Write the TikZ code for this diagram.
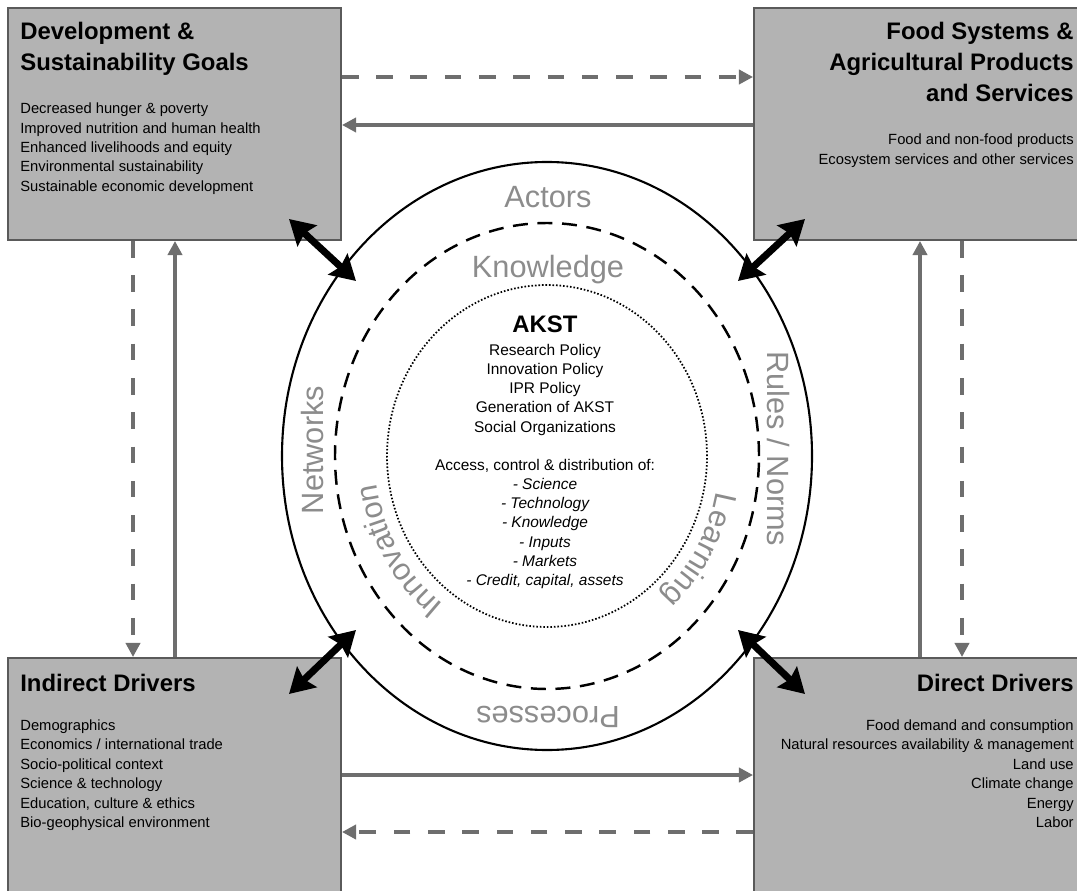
\documentclass[tikz,border=0pt]{standalone}
\usepackage{fontspec}
\setmainfont{Liberation Sans}
\usetikzlibrary{arrows.meta,fit,decorations.text}

\definecolor{boxfill}{HTML}{B3B3B3}
\definecolor{boxline}{HTML}{5A5A5A}
\definecolor{flowgray}{HTML}{6E6E6E}
\definecolor{ringgray}{HTML}{8C8C8C}
\newcommand\ringfont{\fontsize{17.5}{20}\selectfont}

\begin{document}
\begin{tikzpicture}[x=0.02cm,y=0.02cm]
    \tikzset{box/.style = {draw=boxline, line width=1.1pt, fill=boxfill, inner sep=0pt}}
    \tikzset{boxtitle/.style = {font=\fontsize{13.6}{16}\selectfont\bfseries, inner sep=0pt}}
    \tikzset{boxitem/.style = {font=\fontsize{8.4}{10}\selectfont, inner sep=0pt}}
    \tikzset{coreitem/.style = {font=\fontsize{8.8}{10}\selectfont, inner sep=0pt}}
    \tikzset{ringlabel/.style = {font=\ringfont, text=ringgray, inner sep=0pt}}
    \tikzset{flow/.style = {draw=flowgray, line width=2.3pt, -{Triangle[length=8pt,width=8pt]}}}
    \tikzset{flowdash/.style = {flow, dash pattern=on 9.5pt off 10pt}}
    \tikzset{link/.style = {line width=4pt, {Stealth[length=14pt,width=16pt,inset=2pt]}-{Stealth[length=14pt,width=16pt,inset=2pt]}}}
    \tikzset{arclabel/.style = {decorate, decoration={text along path, text align=center, text color=ringgray, text={|\ringfont|#1}}}}
    \useasboundingbox (0,0) rectangle (1077,890);
    \clip (0,0) rectangle (1077,890);
    % the four boxes
    \node[box, fit={(8,650) (341,882)}] (goals) {};
    \node[box, fit={(754,650) (1090,882)}] (food) {};
    \node[box, fit={(8,-10) (341,232)}] (indirect) {};
    \node[box, fit={(754,-10) (1090,232)}] (direct) {};
    % box texts
    \foreach \txt [count=\i] in {Development \&, Sustainability Goals}
        \node[boxtitle, anchor=base west] (goalstitle\i) at (20,881-31*\i) {\txt};
    \foreach \txt [count=\i] in {Decreased hunger \& poverty, Improved nutrition and human health, Enhanced livelihoods and equity, Environmental sustainability, Sustainable economic development}
        \node[boxitem, anchor=base west] (goalsitem\i) at (20,795.3-19.3*\i) {\txt};
    \foreach \txt [count=\i] in {Food Systems \&, Agricultural Products, and Services}
        \node[boxtitle, anchor=base east] (foodtitle\i) at (1074,881-31*\i) {\txt};
    \foreach \txt [count=\i] in {Food and non-food products, Ecosystem services and other services}
        \node[boxitem, anchor=base east] (fooditem\i) at (1074,764.3-19.3*\i) {\txt};
    \node[boxtitle, anchor=base west] (indirecttitle) at (20,199) {Indirect Drivers};
    \foreach \txt [count=\i] in {Demographics, Economics / international trade, Socio-political context, Science \& technology, {Education, culture \& ethics}, Bio-geophysical environment}
        \node[boxitem, anchor=base west] (indirectitem\i) at (20,179-19.4*\i) {\txt};
    \node[boxtitle, anchor=base east] (directtitle) at (1074,199) {Direct Drivers};
    \foreach \txt [count=\i] in {Food demand and consumption, Natural resources availability \& management, Land use, Climate change, Energy, Labor}
        \node[boxitem, anchor=base east] (directitem\i) at (1074,179-19.4*\i) {\txt};
    % rings
    \draw[line width=1.2pt] (547,434) ellipse [x radius=265, y radius=294];
    \draw[line width=1.4pt, dash pattern=on 8.5pt off 5.5pt] (547,434) ellipse [x radius=212, y radius=233];
    \draw[line width=1pt, dash pattern=on 0.9pt off 1.1pt] (547,434) ellipse [x radius=160, y radius=171];
    % ring labels
    \node[ringlabel, anchor=base] (actors) at (548,682) {Actors};
    \node[ringlabel, anchor=base] (knowledge) at (548,612) {Knowledge};
    \node[ringlabel, anchor=base, rotate=90] (networks) at (323,440) {Networks};
    \node[ringlabel, anchor=base, rotate=-90] (rules) at (767,441) {Rules / Norms};
    \node[ringlabel, anchor=base, rotate=180] (processes) at (548,184) {Processes};
    \path[arclabel=Innovation] (547,434) ++(241:172 and 186) arc[start angle=241, end angle=181, x radius=172, y radius=186];
    \path[arclabel=Learning] (547,434) ++(0:172 and 186) arc[start angle=0, end angle=-60, x radius=172, y radius=186];
    % core text
    \node[boxtitle, anchor=base] (akst) at (545,558) {AKST};
    \foreach \txt [count=\i] in {Research Policy, Innovation Policy, IPR Policy, Generation of AKST, Social Organizations}
        \node[coreitem, anchor=base] (policy\i) at (545,554.3-19.3*\i) {\txt};
    \node[coreitem, anchor=base] (access) at (545,420) {Access, control \& distribution of:};
    \foreach \txt [count=\i] in {- Science, - Technology, - Knowledge, - Inputs, - Markets, {- Credit, capital, assets}}
        \node[coreitem, anchor=base, font=\fontsize{8.8}{10}\selectfont\itshape] (access\i) at (545,420-19.3*\i) {\txt};
    % grey flows between boxes
    \coordinate (topdash) at (0,813);
    \coordinate (topline) at (0,765);
    \coordinate (botline) at (0,115);
    \coordinate (botdash) at (0,58);
    \coordinate (leftdash) at (133,0);
    \coordinate (leftline) at (175,0);
    \coordinate (rightline) at (920,0);
    \coordinate (rightdash) at (962,0);
    \draw[flowdash] (goals.east |- topdash) -- (food.west |- topdash);
    \draw[flow] (food.west |- topline) -- (goals.east |- topline);
    \draw[flow] (indirect.east |- botline) -- (direct.west |- botline);
    \draw[flowdash] (direct.west |- botdash) -- (indirect.east |- botdash);
    \draw[flowdash] (goals.south -| leftdash) -- (indirect.north -| leftdash);
    \draw[flow] (indirect.north -| leftline) -- (goals.south -| leftline);
    \draw[flow] (direct.north -| rightline) -- (food.south -| rightline);
    \draw[flowdash] (food.south -| rightdash) -- (direct.north -| rightdash);
    % black links between boxes and rings
    \coordinate (goalsend) at (289,671);
    \coordinate (ringNW) at (356,609);
    \coordinate (foodend) at (805,671);
    \coordinate (ringNE) at (738,609);
    \coordinate (indirectend) at (289,196);
    \coordinate (ringSW) at (356,260);
    \coordinate (directend) at (805,196);
    \coordinate (ringSE) at (738,260);
    \draw[link] (goalsend) -- (ringNW);
    \draw[link] (foodend) -- (ringNE);
    \draw[link] (indirectend) -- (ringSW);
    \draw[link] (directend) -- (ringSE);
\end{tikzpicture}
\end{document}
